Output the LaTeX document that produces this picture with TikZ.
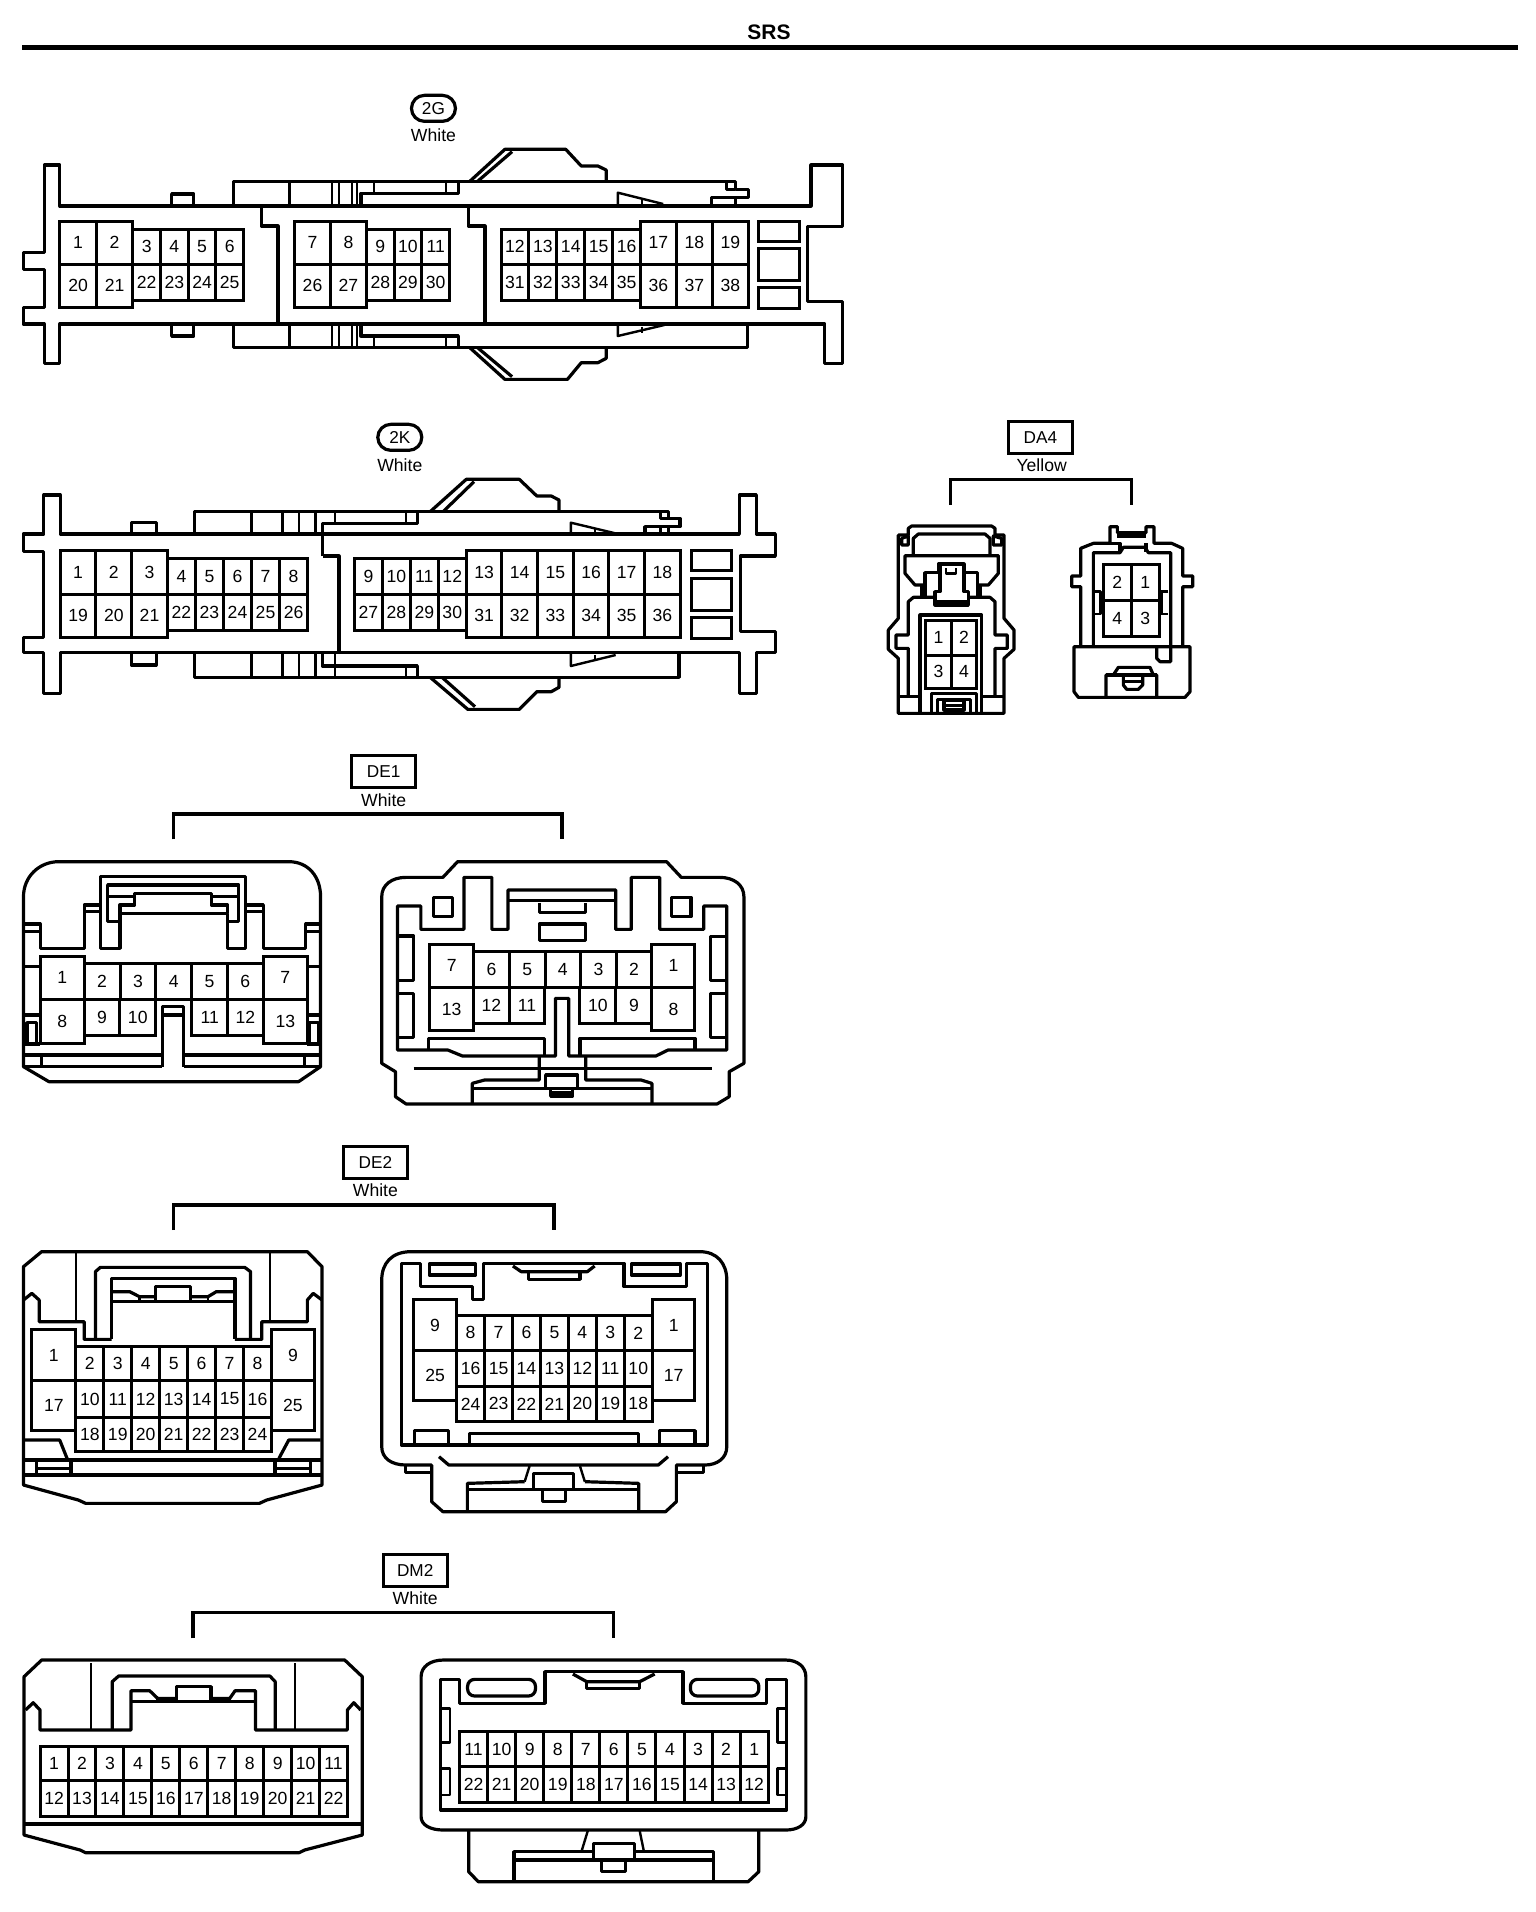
\documentclass[tikz,border=0pt]{standalone}
\usepackage{fontspec}
\setmainfont{Liberation Sans}
\usetikzlibrary{arrows.meta}

\tikzset{
  shell/.style={line width=1.6pt, line join=round},
  thinshell/.style={line width=1.2pt, line join=round},
  cell/.style={line width=1.5pt},
  bracket/.style={line width=1.7pt},
  pin/.style={font=\fontsize{8.8}{10}\selectfont, inner sep=0pt},
  tagbox/.style={draw, line width=1.6pt, minimum width=32pt, minimum height=16pt, inner sep=0pt, font=\fontsize{8.6}{10}\selectfont},
  tagoval/.style={tagbox, rounded corners=6.5pt, minimum width=22pt, minimum height=13pt},
  colorname/.style={inner sep=0pt, font=\fontsize{8.8}{10}\selectfont},
  zoomed/.style n args={3}{shift={(#1,#2)}, x=#3pt, y=-0.16667pt}
}

% one row of pin cells: prefix, left x, cell width, top y, bottom y, numbers
\newcommand{\pinrow}[6]{
  \foreach \n [count=\i] in {#6} {
    \draw[cell] ({#2+(\i-1)*#3},#4) rectangle ({#2+\i*#3},#5) node[pin, midway] (#1-\n) {\n};
  }
}

\begin{document}
\begin{tikzpicture}[x=0.5pt, y=-0.5pt]
  \useasboundingbox (0,0) rectangle (1536,1912);
  % Title
  \node[inner sep=0pt, font=\bfseries\fontsize{10.5}{12}\selectfont] (title) at (769,32) {SRS};
  \draw[line width=2.5pt] (22,47.5) -- (1518,47.5);

  % Connector 2G
  \begin{scope}[zoomed={0}{80}{0.2768}]
    \node[tagoval] (tag2g) at (783,85) {2G};
    \node[colorname] (col2g) at (783,165) {White};
    \draw[shell] (108,378) -- (108,255) -- (80,255) -- (80,518) -- (42,518) -- (42,568) -- (80,568) -- (80,682) -- (42,682) -- (42,732) -- (80,732) -- (80,850) -- (108,850) -- (108,732) -- (1490,732) -- (1490,850) -- (1522,850) -- (1522,664) -- (1458,664) -- (1458,440) -- (1522,440) -- (1522,255) -- (1465,255) -- (1465,378) -- cycle;
    \draw[shell] (310,378) -- (310,342) -- (350,342) -- (350,378);
    \draw[shell] (310,732) -- (310,768) -- (350,768) -- (350,732);
    % upper housing
    \draw[shell] (422,378) -- (422,305) -- (1328,305) -- (1328,328) -- (1352,328) -- (1352,352) -- (1328,352) -- (1328,378);
    \draw[shell] (1312,305) -- (1312,328) -- (1328,328);
    \draw[shell] (1285,378) -- (1285,352) -- (1328,352);
    \foreach \x in {523,600,612,636,645} {\draw[thinshell] (\x,305) -- (\x,378);}
    \draw[shell] (652,378) -- (652,340) -- (828,340) -- (828,305);
    \draw[thinshell] (676,305) -- (676,340);
    \draw[thinshell] (806,305) -- (806,340);
    \draw[shell] (848,305) -- (912,208) -- (1022,208) -- (1050,258) -- (1080,258) -- (1095,270) -- (1095,305);
    \draw[shell] (862,305) -- (925,215);
    \draw[thinshell] (1116,378) -- (1116,338) -- (1198,372);
    \draw[thinshell] (1160,358) -- (1160,378);
    % lower housing
    \draw[shell] (422,732) -- (422,802) -- (1350,802) -- (1350,732);
    \foreach \x in {523,600,612,636,645} {\draw[thinshell] (\x,732) -- (\x,802);}
    \draw[shell] (652,732) -- (652,768) -- (828,768) -- (828,802);
    \draw[thinshell] (676,768) -- (676,802);
    \draw[thinshell] (806,768) -- (806,802);
    \draw[shell] (848,802) -- (912,898) -- (1025,898) -- (1050,848) -- (1080,848) -- (1095,835) -- (1095,802);
    \draw[shell] (862,802) -- (925,890);
    \draw[thinshell] (1116,732) -- (1116,768) -- (1200,735);
    \draw[thinshell] (1160,740) -- (1160,758);
    % cavity walls
    \draw[shell] (472,378) -- (472,438) -- (502,438) -- (502,732);
    \draw[shell] (846,378) -- (846,438) -- (876,438) -- (876,732);
    % pins
    \pinrow{2g}{108}{66}{424}{552}{1,2}
    \pinrow{2g}{108}{66}{552}{682}{20,21}
    \pinrow{2g}{240}{50}{448}{552}{3,4,5,6}
    \pinrow{2g}{240}{50}{552}{662}{22,23,24,25}
    \pinrow{2g}{532}{65}{424}{552}{7,8}
    \pinrow{2g}{532}{65}{552}{682}{26,27}
    \pinrow{2g}{662}{50}{448}{552}{9,10,11}
    \pinrow{2g}{662}{50}{552}{662}{28,29,30}
    \pinrow{2g}{905}{50.4}{448}{552}{12,13,14,15,16}
    \pinrow{2g}{905}{50.4}{552}{662}{31,32,33,34,35}
    \pinrow{2g}{1157}{65}{424}{552}{17,18,19}
    \pinrow{2g}{1157}{65}{552}{682}{36,37,38}
    \draw[cell] (1370,424) rectangle (1445,484);
    \draw[cell] (1370,506) rectangle (1445,602);
    \draw[cell] (1370,622) rectangle (1445,684);
  \end{scope}

  % Connector 2K
  \begin{scope}[zoomed={0}{410}{0.2576}]
    \node[tagoval] (tag2k) at (776,82) {2K};
    \node[colorname] (col2k) at (776,165) {White};
    \draw[shell] (45,372) -- (85,372) -- (85,255) -- (117,255) -- (117,372) -- (1435,372) -- (1435,255) -- (1468,255) -- (1468,372) -- (1505,372) -- (1505,438) -- (1437,438) -- (1437,664) -- (1505,664) -- (1505,728) -- (1468,728) -- (1468,850) -- (1435,850) -- (1435,728) -- (117,728) -- (117,850) -- (85,850) -- (85,728) -- (45,728) -- (45,682) -- (85,682) -- (85,425) -- (45,425) -- cycle;
    \draw[shell] (255,372) -- (255,338) -- (303,338) -- (303,372);
    \draw[shell] (255,728) -- (255,765) -- (303,765) -- (303,728);
    % upper housing
    \draw[shell] (378,372) -- (378,305) -- (1298,305) -- (1298,325) -- (1320,325) -- (1320,350) -- (1298,350) -- (1298,372);
    \draw[shell] (1282,305) -- (1282,325) -- (1298,325);
    \draw[shell] (1252,372) -- (1252,350) -- (1298,350);
    \draw[thinshell] (1282,350) -- (1282,372);
    \foreach \x in {488,548,580,612} {\draw[thinshell] (\x,305) -- (\x,372);}
    \draw[thinshell] (650,305) -- (650,340);
    \draw[shell] (626,438) -- (626,340) -- (810,340) -- (810,305);
    \draw[thinshell] (788,305) -- (788,340);
    \draw[shell] (626,438) -- (658,438) -- (658,728);
    \draw[shell] (835,305) -- (905,208) -- (1008,208) -- (1042,258) -- (1070,258) -- (1085,270) -- (1085,305);
    \draw[shell] (860,305) -- (920,215);
    \draw[thinshell] (1108,372) -- (1108,338) -- (1200,372);
    \draw[thinshell] (1155,355) -- (1155,372);
    % lower housing
    \draw[shell] (378,728) -- (378,802) -- (1318,802) -- (1318,728);
    \foreach \x in {488,548,580,612,650} {\draw[thinshell] (\x,728) -- (\x,802);}
    \draw[shell] (626,728) -- (626,768) -- (810,768) -- (810,802);
    \draw[thinshell] (788,768) -- (788,802);
    \draw[shell] (835,802) -- (908,898) -- (1008,898) -- (1042,845) -- (1070,845) -- (1085,832) -- (1085,802);
    \draw[shell] (858,802) -- (922,890);
    \draw[thinshell] (1108,728) -- (1108,768) -- (1195,735);
    \draw[thinshell] (1155,735) -- (1155,750);
    % pins
    \pinrow{2k}{117}{69.3}{422}{552}{1,2,3}
    \pinrow{2k}{117}{69.3}{552}{682}{19,20,21}
    \pinrow{2k}{325}{54.4}{445}{552}{4,5,6,7,8}
    \pinrow{2k}{325}{54.4}{552}{660}{22,23,24,25,26}
    \pinrow{2k}{688}{54.25}{445}{552}{9,10,11,12}
    \pinrow{2k}{688}{54.25}{552}{660}{27,28,29,30}
    \pinrow{2k}{905}{69.2}{422}{552}{13,14,15,16,17,18}
    \pinrow{2k}{905}{69.2}{552}{682}{31,32,33,34,35,36}
    \draw[cell] (1343,422) rectangle (1420,482);
    \draw[cell] (1343,505) rectangle (1420,600);
    \draw[cell] (1343,622) rectangle (1420,684);
  \end{scope}

  % Connector DA4
  \begin{scope}[zoomed={860}{410}{0.16667}]
    \node[tagbox] (tagda4) at (541,82) {DA4};
    \node[colorname] (colda4) at (545,165) {Yellow};
    \coordinate (da4a) at (272,285);
    \coordinate (da4b) at (815,285);
    \coordinate (da4c) at (541,208);
    \draw[bracket] (da4a) |- (da4c) -| (da4b);
    % left half
    \draw[shell] (115,375) -- (115,625) -- (85,660) -- (85,718) -- (115,745) -- (115,910) -- (432,910) -- (432,745) -- (462,718) -- (462,660) -- (432,625) -- (432,375) -- (405,375) -- (405,355) -- (395,348) -- (155,348) -- (145,355) -- (145,375) -- cycle;
    \draw[shell] (145,860) -- (145,715) -- (108,715) -- (108,675) -- (145,675) -- (145,575) -- (160,562) -- (222,562);
    \draw[shell] (325,562) -- (390,562) -- (405,575) -- (405,675) -- (442,675) -- (442,715) -- (405,715) -- (405,860);
    \draw[shell] (115,860) -- (180,860);
    \draw[shell] (370,860) -- (432,860);
    \draw[shell] (180,905) -- (180,615) -- (365,615) -- (365,905);
    \draw[shell] (215,905) -- (215,850) -- (350,850) -- (350,905);
    \draw[shell] (232,905) -- (232,868) -- (332,868) -- (332,905);
    \draw[shell] (252,872) rectangle (312,900);
    \draw[thinshell] (252,886) -- (312,886);
    \draw[shell] (160,435) -- (160,385) -- (175,372) -- (375,372) -- (390,385) -- (390,435);
    \draw[shell] (125,405) -- (125,385) -- (145,378) -- (145,405) -- cycle;
    \draw[shell] (400,405) -- (400,378) -- (425,385) -- (425,405) -- cycle;
    \draw[shell] (195,525) -- (165,525) -- (135,490) -- (135,437) -- (415,437) -- (415,490) -- (385,525) -- (352,525);
    \draw[shell] (195,560) -- (195,488) -- (235,488) -- (235,462) -- (312,462) -- (312,488) -- (352,488) -- (352,560);
    \draw[shell] (185,525) -- (185,565);
    \draw[shell] (360,525) -- (360,565);
    \draw[shell] (240,462) -- (240,545) -- (225,545) -- (225,585) -- (325,585) -- (325,545) -- (312,545) -- (312,462);
    \draw[thinshell] (230,575) -- (320,575);
    \draw[thinshell] (258,475) -- (258,490) -- (288,490) -- (288,475);
    \pinrow{da4a}{197}{76.5}{630}{735}{1,2}
    \pinrow{da4a}{197}{76.5}{735}{835}{3,4}
    % right half
    \draw[shell] (642,710) -- (642,845) -- (655,862) -- (975,862) -- (990,845) -- (990,710) -- cycle;
    \draw[shell] (662,710) -- (662,530) -- (635,530) -- (635,498) -- (662,498) -- (662,415) -- (700,400) -- (750,400) -- (750,350) -- (772,350) -- (772,368) -- (858,368) -- (858,350) -- (882,350) -- (882,400) -- (935,400) -- (968,415) -- (968,498) -- (998,498) -- (998,530) -- (968,530) -- (968,710);
    \draw[shell] (700,710) -- (700,428) -- (780,428) -- (790,412) -- (855,412) -- (865,428) -- (932,428) -- (932,710);
    \draw[shell] (750,400) -- (780,400) -- (780,428);
    \draw[shell] (858,400) -- (858,425);
    \draw[shell] (772,378) -- (858,378);
    \draw[shell] (890,710) -- (890,745) -- (900,755) -- (932,755) -- (932,710);
    \draw[thinshell] (705,545) -- (722,545) -- (722,612) -- (705,612);
    \draw[thinshell] (925,545) -- (905,545) -- (905,612) -- (925,612);
    \draw[shell] (738,862) -- (738,795) -- (760,795) -- (775,772) -- (870,772) -- (880,795) -- (890,795) -- (890,862);
    \draw[shell] (738,795) -- (890,795);
    \draw[shell] (790,795) -- (848,795) -- (848,825) -- (835,838) -- (800,838) -- (790,825) -- cycle;
    \draw[thinshell] (790,815) -- (848,815);
    \pinrow{da4b}{730}{84}{463}{570}{2,1}
    \pinrow{da4b}{730}{84}{570}{678}{4,3}
  \end{scope}

  % Connector DE1
  \begin{scope}[zoomed={0}{750}{0.2447}]
    \node[tagbox] (tagde1) at (784,64) {DE1};
    \node[colorname] (colde1) at (784,150) {White};
    \coordinate (de1a) at (355,268);
    \coordinate (de1b) at (1148,268);
    \coordinate (de1c) at (750,192);
    \draw[bracket] (de1a) |- (de1c) -| (de1b);
    % left half
    \draw[shell] (48,950) -- (48,440) .. controls (48,380) and (80,335) .. (120,335) -- (590,335) .. controls (630,335) and (655,380) .. (655,440) -- (655,950) -- (610,995) -- (100,995) -- cycle;
    \draw[shell] (48,915) -- (332,915);
    \draw[shell] (375,915) -- (655,915);
    \draw[shell] (48,950) -- (332,950);
    \draw[shell] (375,950) -- (655,950);
    \draw[thinshell] (85,915) -- (85,950);
    \draw[thinshell] (622,915) -- (622,950);
    \draw[shell] (332,950) -- (332,770) -- (375,770) -- (375,950);
    \draw[shell] (332,795) -- (375,795);
    \draw[shell] (50,522) -- (82,522) -- (82,595) -- (172,595) -- (172,465) -- (205,465);
    \draw[shell] (172,485) -- (205,485);
    \draw[shell] (205,380) -- (205,595) -- (245,595) -- (245,490) -- (465,490) -- (465,595) -- (502,595) -- (502,380) -- cycle;
    \draw[shell] (502,465) -- (538,465) -- (538,595) -- (625,595) -- (625,522) -- (655,522);
    \draw[shell] (502,485) -- (538,485);
    \draw[shell] (50,545) -- (82,545);
    \draw[shell] (625,545) -- (655,545);
    \draw[shell] (245,515) -- (220,515) -- (220,405) -- (488,405) -- (488,515) -- (465,515);
    \draw[shell] (220,440) -- (275,440);
    \draw[shell] (432,440) -- (488,440);
    \draw[shell] (245,490) -- (245,465) -- (275,465) -- (275,430) -- (432,430) -- (432,465) -- (465,465) -- (465,490);
    \draw[shell] (48,650) -- (82,650);
    \draw[shell] (628,650) -- (655,650);
    \draw[shell] (48,795) -- (82,795);
    \draw[shell] (628,795) -- (655,795);
    \draw[shell] (48,882) -- (82,882);
    \draw[shell] (628,882) -- (655,882);
    \draw[shell] (55,818) rectangle (75,880);
    \draw[shell] (633,818) rectangle (650,880);
    \pinrow{de1a}{82}{90}{618}{748}{1}
    \pinrow{de1a}{82}{90}{748}{880}{8}
    \pinrow{de1a}{538}{90}{618}{748}{7}
    \pinrow{de1a}{538}{90}{748}{880}{13}
    \pinrow{de1a}{172}{73.2}{640}{748}{2,3,4,5,6}
    \pinrow{de1a}{172}{73}{748}{855}{9,10}
    \pinrow{de1a}{392}{73}{748}{855}{11,12}
    % right half
    \draw[shell] (808,965) -- (780,940) -- (780,440) .. controls (780,405) and (800,382) .. (830,382) -- (905,382) -- (935,335) -- (1362,335) -- (1392,382) -- (1470,382) .. controls (1500,382) and (1520,405) .. (1520,440) -- (1520,940) -- (1490,965) -- (1490,1040) -- (1465,1062) -- (830,1062) -- (808,1040) -- cycle;
    \draw[shell] (812,900) -- (812,468) -- (860,468) -- (860,538) -- (948,538) -- (948,382) -- (1005,382) -- (1005,538) -- (1038,538) -- (1038,420) -- (1258,420) -- (1258,538) -- (1290,538) -- (1290,382) -- (1348,382) -- (1348,538) -- (1438,538) -- (1438,468) -- (1485,468) -- (1485,900) -- (1365,900) -- (1340,918) -- (1162,918) -- (1162,745) -- (1135,745) -- (1135,918) -- (945,918) -- (915,900) -- cycle;
    \draw[shell] (1038,452) -- (1258,452);
    \draw[shell] (1102,458) -- (1102,488) -- (1197,488) -- (1197,458);
    \draw[shell] (1102,522) rectangle (1197,572);
    \draw[shell] (885,442) rectangle (925,500);
    \draw[shell] (1372,442) rectangle (1412,500);
    \draw[shell] (815,558) -- (845,558) -- (845,692) -- (815,692);
    \draw[shell] (815,730) -- (845,730) -- (845,862) -- (815,862);
    \draw[shell] (1482,560) -- (1452,560) -- (1452,692) -- (1482,692);
    \draw[shell] (1482,730) -- (1452,730) -- (1452,862) -- (1482,862);
    \draw[shell] (875,900) -- (875,865) -- (1112,865) -- (1112,918);
    \draw[shell] (1185,918) -- (1185,865) -- (1420,865) -- (1420,900);
    \draw[shell] (845,955) -- (1455,955);
    \draw[shell] (1102,918) -- (1102,990) -- (990,990) -- (965,1000) -- (965,1062);
    \draw[shell] (1197,918) -- (1197,990) -- (1310,990) -- (1332,1000) -- (1332,1062);
    \draw[shell] (965,1015) -- (1332,1015);
    \draw[shell] (1115,1015) -- (1115,975) -- (1180,975) -- (1180,1015);
    \draw[shell] (1125,1015) -- (1125,1038) -- (1170,1038) -- (1170,1015);
    \draw[thinshell] (1125,1028) -- (1170,1028);
    \pinrow{de1b}{878}{90}{582}{712}{7}
    \pinrow{de1b}{878}{90}{712}{842}{13}
    \pinrow{de1b}{1332}{88}{582}{712}{1}
    \pinrow{de1b}{1332}{88}{712}{842}{8}
    \pinrow{de1b}{968}{72.8}{605}{712}{6,5,4,3,2}
    \pinrow{de1b}{968}{72.5}{712}{820}{12,11}
    \pinrow{de1b}{1185}{73.5}{712}{820}{10,9}
  \end{scope}

  % Connector DE2
  \begin{scope}[zoomed={0}{1140}{0.2447}]
    \node[tagbox] (tagde2) at (767,67) {DE2};
    \node[colorname] (colde2) at (767,150) {White};
    \coordinate (de2a) at (355,270);
    \coordinate (de2b) at (1132,270);
    \coordinate (de2c) at (740,195);
    \draw[bracket] (de2a) |- (de2c) -| (de2b);
    % left half
    \draw[shell] (48,380) -- (85,335) -- (628,335) -- (658,380) -- (658,1035) -- (545,1080) -- (530,1090) -- (175,1090) -- (160,1080) -- (48,1035) -- cycle;
    \draw[thinshell] (155,340) -- (155,545);
    \draw[thinshell] (552,340) -- (552,545);
    \draw[shell] (195,598) -- (195,395) -- (205,382) -- (500,382) -- (512,395) -- (512,598);
    \draw[shell] (228,598) -- (228,415) -- (480,415) -- (480,598);
    \draw[shell] (48,480) -- (65,460) -- (80,480) -- (80,545) -- (172,545) -- (172,598) -- (228,598);
    \draw[shell] (480,598) -- (535,598) -- (535,545) -- (628,545) -- (628,480) -- (640,460) -- (658,480);
    \draw[shell] (228,485) -- (480,485);
    \draw[shell] (228,455) -- (265,455) -- (285,470) -- (318,470);
    \draw[shell] (318,485) -- (318,440) -- (390,440) -- (390,485);
    \draw[shell] (390,470) -- (425,470) -- (442,455) -- (480,455);
    \draw[thinshell] (285,470) -- (285,485);
    \draw[thinshell] (425,470) -- (425,485);
    \draw[shell] (50,900) -- (122,900) -- (137,955);
    \draw[shell] (655,900) -- (590,900) -- (570,955);
    \draw[shell] (50,960) -- (655,960);
    \draw[shell] (50,1005) -- (655,1005);
    \foreach \x in {75,145,562,635} {\draw[shell] (\x,960) -- (\x,1005);}
    \draw[shell] (75,985) -- (145,985);
    \draw[shell] (562,985) -- (635,985);
    \pinrow{de2a}{65}{90}{568}{722}{1}
    \pinrow{de2a}{65}{90}{722}{872}{17}
    \pinrow{de2a}{555}{87}{568}{722}{9}
    \pinrow{de2a}{555}{87}{722}{872}{25}
    \pinrow{de2a}{155}{57.1}{618}{722}{2,3,4,5,6,7,8}
    \pinrow{de2a}{155}{57.1}{722}{832}{10,11,12,13,14,15,16}
    \pinrow{de2a}{155}{57.1}{832}{935}{18,19,20,21,22,23,24}
    % right half
    \draw[shell] (780,420) .. controls (780,370) and (800,335) .. (840,335) -- (1430,335) .. controls (1465,335) and (1485,370) .. (1485,420) -- (1485,920) .. controls (1485,955) and (1465,975) .. (1440,975) -- (1382,975) -- (1382,1085) -- (1360,1115) -- (905,1115) -- (882,1085) -- (882,975) -- (830,975) .. controls (800,975) and (780,955) .. (780,920) -- cycle;
    \draw[shell] (828,975) -- (828,998) -- (882,998);
    \draw[shell] (1382,998) -- (1438,998) -- (1438,975);
    \draw[shell] (820,915) -- (820,370) -- (860,370) -- (860,440) -- (965,440) -- (965,478) -- (988,478) -- (988,370) -- (1275,370) -- (1275,440) -- (1402,440) -- (1402,370) -- (1445,370) -- (1445,915) -- cycle;
    \draw[shell] (877,372) rectangle (972,405);
    \draw[shell] (1290,372) rectangle (1390,405);
    \draw[shell] (1048,378) -- (1065,395) -- (1200,395) -- (1215,378);
    \draw[shell] (1080,395) -- (1080,418) -- (1185,418) -- (1185,395);
    \draw[shell] (847,915) -- (847,872) -- (917,872) -- (917,915);
    \draw[shell] (960,915) -- (960,880) -- (1305,880) -- (1305,915);
    \draw[shell] (1347,915) -- (1347,872) -- (1420,872) -- (1420,915);
    \draw[shell] (897,950) -- (917,975) -- (1345,975) -- (1365,950);
    \draw[thinshell] (1072,1025) -- (1082,978);
    \draw[thinshell] (1195,1025) -- (1185,978);
    \draw[shell] (955,1110) -- (955,1030) -- (1072,1025);
    \draw[shell] (1195,1025) -- (1305,1030) -- (1305,1110);
    \draw[shell] (955,1048) -- (1305,1048);
    \draw[shell] (1090,1000) rectangle (1172,1048);
    \draw[shell] (1108,1048) -- (1108,1085) -- (1155,1085) -- (1155,1048);
    \pinrow{de2b}{845}{88}{478}{632}{9}
    \pinrow{de2b}{845}{88}{632}{782}{25}
    \pinrow{de2b}{1333}{87}{478}{632}{1}
    \pinrow{de2b}{1333}{87}{632}{782}{17}
    \pinrow{de2b}{933}{57.1}{525}{632}{8,7,6,5,4,3,2}
    \pinrow{de2b}{933}{57.1}{632}{738}{16,15,14,13,12,11,10}
    \pinrow{de2b}{933}{57.1}{738}{845}{24,23,22,21,20,19,18}
  \end{scope}

  % Connector DM2
  \begin{scope}[zoomed={0}{1550}{0.2672}]
    \node[tagbox] (tagdm2) at (777,61) {DM2};
    \node[colorname] (coldm2) at (777,145) {White};
    \coordinate (dm2a) at (361,265);
    \coordinate (dm2b) at (1148,265);
    \coordinate (dm2c) at (750,187);
    \draw[bracket] (dm2a) |- (dm2c) -| (dm2b);
    % left half
    \draw[shell] (45,380) -- (78,330) -- (645,330) -- (678,380) -- (678,855) -- (570,900) -- (560,908) -- (160,908) -- (150,900) -- (45,855) -- cycle;
    \draw[shell] (45,822) -- (678,822);
    \draw[thinshell] (170,340) -- (170,540);
    \draw[thinshell] (552,340) -- (552,540);
    \draw[shell] (48,480) -- (62,458) -- (75,480) -- (75,540) -- (245,540) -- (245,422) -- (280,422) -- (295,445) -- (330,445);
    \draw[shell] (395,445) -- (430,445) -- (440,422) -- (478,422) -- (478,540) -- (650,540) -- (650,480) -- (662,458) -- (675,480);
    \draw[shell] (245,455) -- (478,455);
    \draw[shell] (210,540) -- (210,395) -- (222,378) -- (505,378) -- (515,395) -- (515,540);
    \draw[shell] (330,455) -- (330,410) -- (395,410) -- (395,455);
    \draw[thinshell] (295,445) -- (295,455);
    \draw[thinshell] (430,445) -- (430,455);
    \pinrow{dm2a}{75}{52.3}{588}{692}{1,2,3,4,5,6,7,8,9,10,11}
    \pinrow{dm2a}{75}{52.3}{692}{800}{12,13,14,15,16,17,18,19,20,21,22}
    % right half
    \draw[shell] (788,380) .. controls (788,350) and (805,330) .. (830,330) -- (1470,330) .. controls (1492,330) and (1508,350) .. (1508,380) -- (1508,800) .. controls (1508,825) and (1492,840) .. (1470,840) -- (830,840) .. controls (805,840) and (788,825) .. (788,800) -- cycle;
    \draw[shell] (825,780) -- (825,388) -- (860,388) -- (860,460) -- (1020,460) -- (1020,365) -- (1278,365) -- (1278,460) -- (1435,460) -- (1435,388) -- (1472,388) -- (1472,780) -- cycle;
    \draw[shell, rounded corners=3.5pt] (875,388) rectangle (1002,438);
    \draw[shell, rounded corners=3.5pt] (1292,388) rectangle (1420,438);
    \draw[shell] (1072,372) -- (1098,395) -- (1197,395) -- (1225,372);
    \draw[shell] (1098,395) -- (1098,415) -- (1197,415) -- (1197,395);
    \draw[thinshell] (828,475) -- (842,475) -- (842,578) -- (828,578);
    \draw[thinshell] (828,655) -- (842,655) -- (842,735) -- (828,735);
    \draw[thinshell] (1470,475) -- (1455,475) -- (1455,578) -- (1470,578);
    \draw[thinshell] (1470,655) -- (1455,655) -- (1455,735) -- (1470,735);
    \pinrow{dm2b}{860}{52.5}{545}{650}{11,10,9,8,7,6,5,4,3,2,1}
    \pinrow{dm2b}{860}{52.5}{650}{758}{22,21,20,19,18,17,16,15,14,13,12}
    \draw[shell] (877,840) -- (877,965) -- (895,995) -- (1400,995) -- (1420,965) -- (1420,840);
    \draw[thinshell] (1088,905) -- (1100,842);
    \draw[thinshell] (1205,905) -- (1197,842);
    \draw[shell] (962,990) -- (962,905) -- (1110,905);
    \draw[shell] (1188,905) -- (1335,905) -- (1335,990);
    \draw[shell] (962,930) -- (1335,930);
    \draw[shell] (1110,880) rectangle (1188,930);
    \draw[shell] (1125,930) -- (1125,965) -- (1170,965) -- (1170,930);
  \end{scope}
\end{tikzpicture}
\end{document}
